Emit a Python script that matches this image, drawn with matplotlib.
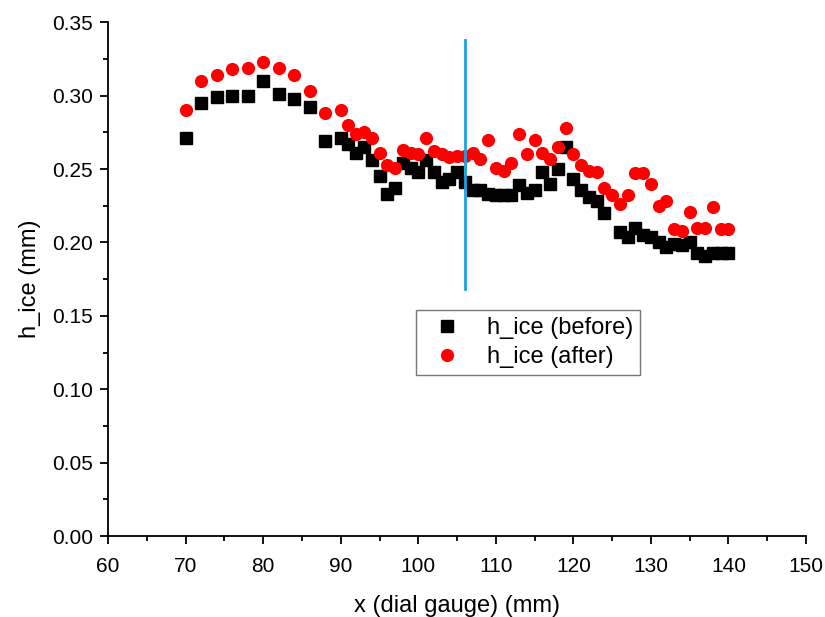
import numpy as np
import matplotlib
matplotlib.use('Agg')
import matplotlib.pyplot as plt
from matplotlib.ticker import MultipleLocator

plt.rcParams['font.family'] = ['Liberation Sans', 'DejaVu Sans']

# 数据
x_before = [70, 72, 74, 76, 78, 80, 82, 84, 86, 88, 90,
            91, 92, 93, 94, 95, 96, 97, 98, 99, 100,
            101, 102, 103, 104, 105, 106, 107, 108, 109, 110,
            111, 112, 113, 114, 115, 116, 117, 118, 119, 120,
            121, 122, 123, 124, 126, 127, 128, 129, 130,
            131, 132, 133, 134, 135, 136, 137, 138, 139, 140]
h_before = [0.271, 0.295, 0.299, 0.2995, 0.2995, 0.310, 0.301, 0.298, 0.292, 0.269, 0.271,
            0.267, 0.261, 0.265, 0.256, 0.245, 0.233, 0.237, 0.254, 0.251, 0.248,
            0.256, 0.248, 0.241, 0.243, 0.248, 0.241, 0.236, 0.236, 0.233, 0.232,
            0.232, 0.232, 0.239, 0.234, 0.236, 0.248, 0.240, 0.250, 0.265, 0.243,
            0.236, 0.231, 0.228, 0.220, 0.207, 0.204, 0.210, 0.205, 0.204,
            0.200, 0.197, 0.199, 0.198, 0.200, 0.193, 0.191, 0.193, 0.193, 0.193]

x_after = [70, 72, 74, 76, 78, 80, 82, 84, 86, 88, 90,
           91, 92, 93, 94, 95, 96, 97, 98, 99, 100,
           101, 102, 103, 104, 105, 106, 107, 108, 109, 110,
           111, 112, 113, 114, 115, 116, 117, 118, 119, 120,
           121, 122, 123, 124, 125, 126, 127, 128, 129, 130,
           131, 132, 133, 134, 135, 136, 137, 138, 139, 140]
h_after = [0.290, 0.310, 0.314, 0.318, 0.319, 0.323, 0.319, 0.314, 0.303, 0.288, 0.290,
           0.280, 0.274, 0.275, 0.271, 0.261, 0.253, 0.251, 0.263, 0.261, 0.260,
           0.271, 0.262, 0.260, 0.258, 0.259, 0.259, 0.261, 0.257, 0.270, 0.251,
           0.249, 0.254, 0.274, 0.260, 0.270, 0.261, 0.257, 0.265, 0.278, 0.260,
           0.253, 0.249, 0.248, 0.237, 0.232, 0.226, 0.232, 0.247, 0.247, 0.240,
           0.225, 0.228, 0.209, 0.208, 0.221, 0.210, 0.210, 0.224, 0.209, 0.209]

line_x = 106
line_y = [0.168, 0.338]

fig = plt.figure(figsize=(8.25, 6.17), dpi=100)
ax = fig.add_axes([0.131, 0.131, 0.846, 0.833])

ax.plot(x_before, h_before, 's', color='black', markersize=8, label='h_ice (before)')
ax.plot(x_after, h_after, 'o', color='red', markersize=9.5, markeredgewidth=0, label='h_ice (after)')
ax.plot([line_x, line_x], line_y, color='#1ba1e2', linewidth=2)

ax.set_xlim(60, 150)
ax.set_ylim(0, 0.35)
ax.xaxis.set_major_locator(MultipleLocator(10))
ax.xaxis.set_minor_locator(MultipleLocator(5))
ax.yaxis.set_major_locator(MultipleLocator(0.05))
ax.yaxis.set_minor_locator(MultipleLocator(0.025))
ax.yaxis.set_major_formatter(matplotlib.ticker.FormatStrFormatter('%.2f'))

ax.spines['top'].set_visible(False)
ax.spines['right'].set_visible(False)
ax.spines['left'].set_linewidth(1.3)
ax.spines['bottom'].set_linewidth(1.3)
ax.tick_params(which='major', direction='out', length=6, width=1.3, labelsize=15, pad=5)
ax.tick_params(axis='x', which='major', pad=9)
ax.tick_params(which='minor', direction='out', length=3.5, width=1.3)

ax.set_xlabel('x (dial gauge) (mm)', fontsize=17, labelpad=14)
ax.set_ylabel('h_ice (mm)', fontsize=17, labelpad=8)

leg = ax.legend(loc='upper left', bbox_to_anchor=(0.441, 0.44), fontsize=17,
                frameon=True, fancybox=False, edgecolor='#555555',
                handletextpad=0.7, borderpad=0.3, labelspacing=0.3, borderaxespad=0)
leg.get_frame().set_linewidth(1)

plt.savefig('out.png', dpi=100)
